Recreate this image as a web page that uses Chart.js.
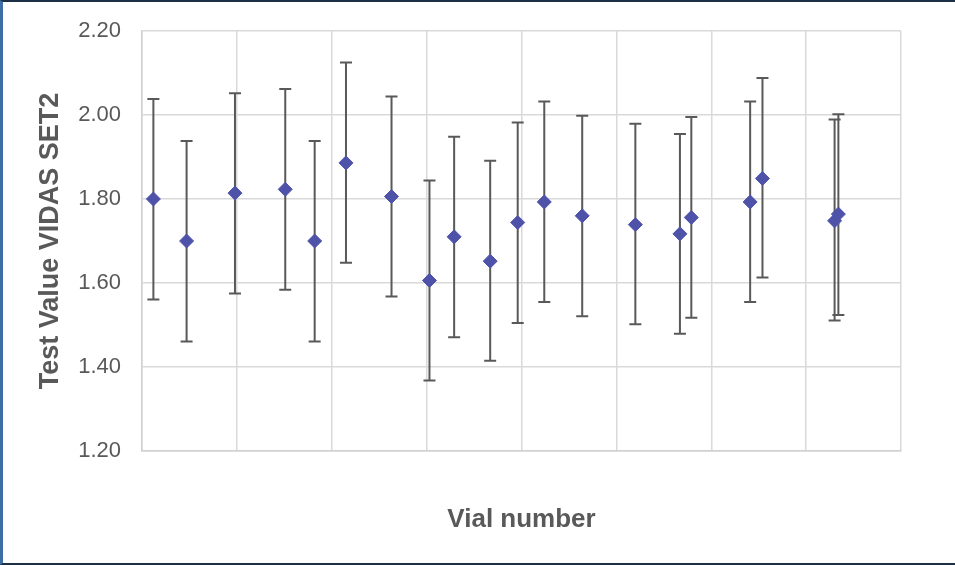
<!DOCTYPE html>
<html>
<head>
<meta charset="utf-8">
<script src="https://cdn.jsdelivr.net/npm/chart.js@4"></script>
<style>
  html, body { margin: 0; padding: 0; background: #fff; }
  #wrap { position: relative; width: 955px; height: 565px; }
  #frame { position: absolute; left: 0; top: 0; width: 955px; height: 565px; box-sizing: border-box;
           border-left: 3px solid #3d6fa6; border-top: 2px solid #1c2f44; border-bottom: 2px solid #1c2f44; pointer-events: none; }
</style>
</head>
<body>
<div id="wrap">
  <canvas id="c" width="955" height="565"></canvas>
  <div id="frame"></div>
</div>
<script>
// Data
const vialX = [0.12, 0.47, 0.98, 1.51, 1.82, 2.15, 2.63, 3.03, 3.29, 3.67, 3.96, 4.24, 4.64, 5.20, 5.67, 5.79, 6.41, 6.54, 7.30, 7.34];
const testValue = [1.800, 1.700, 1.814, 1.823, 1.700, 1.886, 1.806, 1.606, 1.710, 1.652, 1.744, 1.793, 1.760, 1.739, 1.717, 1.756, 1.793, 1.849, 1.748, 1.764];
const errHigh = [2.038, 1.938, 2.052, 2.062, 1.938, 2.125, 2.044, 1.844, 1.948, 1.891, 1.982, 2.032, 1.998, 1.979, 1.955, 1.995, 2.032, 2.088, 1.989, 2.002];
const errLow  = [1.561, 1.461, 1.575, 1.584, 1.461, 1.648, 1.568, 1.368, 1.471, 1.415, 1.505, 1.555, 1.521, 1.502, 1.479, 1.517, 1.555, 1.613, 1.511, 1.524];
const yTicks = { min: 1.2, max: 2.2, step: 0.2 };
const xRange = { min: 0, max: 8, step: 1 };

const points = vialX.map((x, i) => ({ x: x, y: testValue[i] }));

const errorBars = {
  id: 'errorBars',
  beforeDatasetsDraw(chart) {
    const ctx = chart.ctx;
    const xs = chart.scales.x, ys = chart.scales.y;
    ctx.save();
    ctx.strokeStyle = '#595959';
    ctx.lineWidth = 2;
    for (let i = 0; i < vialX.length; i++) {
      const px = xs.getPixelForValue(vialX[i]);
      const pTop = ys.getPixelForValue(errHigh[i]);
      const pBot = ys.getPixelForValue(errLow[i]);
      ctx.beginPath();
      ctx.moveTo(px, pTop); ctx.lineTo(px, pBot);
      ctx.moveTo(px - 6, pTop); ctx.lineTo(px + 6, pTop);
      ctx.moveTo(px - 6, pBot); ctx.lineTo(px + 6, pBot);
      ctx.stroke();
    }
    ctx.restore();
  }
};

const FONT = '"Liberation Sans", Arial, sans-serif';

new Chart(document.getElementById('c'), {
  type: 'scatter',
  data: {
    datasets: [{
      data: points,
      pointStyle: 'rectRot',
      pointRadius: 7,
      pointHoverRadius: 7,
      backgroundColor: '#4e53a9',
      borderColor: '#4e53a9',
      borderWidth: 1
    }]
  },
  options: {
    responsive: false,
    animation: false,
    devicePixelRatio: 1,
    layout: { padding: { left: 0, top: 31, right: 54, bottom: 0 } },
    plugins: { legend: { display: false }, tooltip: { enabled: false } },
    scales: {
      x: {
        type: 'linear',
        min: xRange.min, max: xRange.max,
        ticks: { display: false, stepSize: xRange.step },
        grid: { color: '#d9d9d9', lineWidth: 1.5, drawTicks: false },
        border: { color: '#d0d0d0', width: 1.5 },
        title: {
          display: true, text: 'Vial number', color: '#595959',
          font: { family: FONT, size: 26, weight: 'bold' },
          padding: { top: 0, bottom: 30 }
        },
        afterFit(scale) { scale.height = 114; scale.paddingLeft = 0; scale.paddingRight = 0; }
      },
      y: {
        type: 'linear',
        min: yTicks.min, max: yTicks.max,
        ticks: {
          stepSize: yTicks.step, color: '#595959', padding: 21,
          font: { family: FONT, size: 22 },
          callback: v => Number(v).toFixed(2)
        },
        grid: { color: '#d9d9d9', lineWidth: 1.5, drawTicks: false },
        border: { color: '#d0d0d0', width: 1.5 },
        title: {
          display: true, text: 'Test Value VIDAS SET2', color: '#595959',
          font: { family: FONT, size: 27, weight: 'bold' },
          padding: { top: 34, bottom: 0 }
        },
        afterFit(scale) { scale.width = 142; scale.paddingTop = 0; scale.paddingBottom = 0; }
      }
    }
  },
  plugins: [errorBars]
});
</script>
</body>
</html>
